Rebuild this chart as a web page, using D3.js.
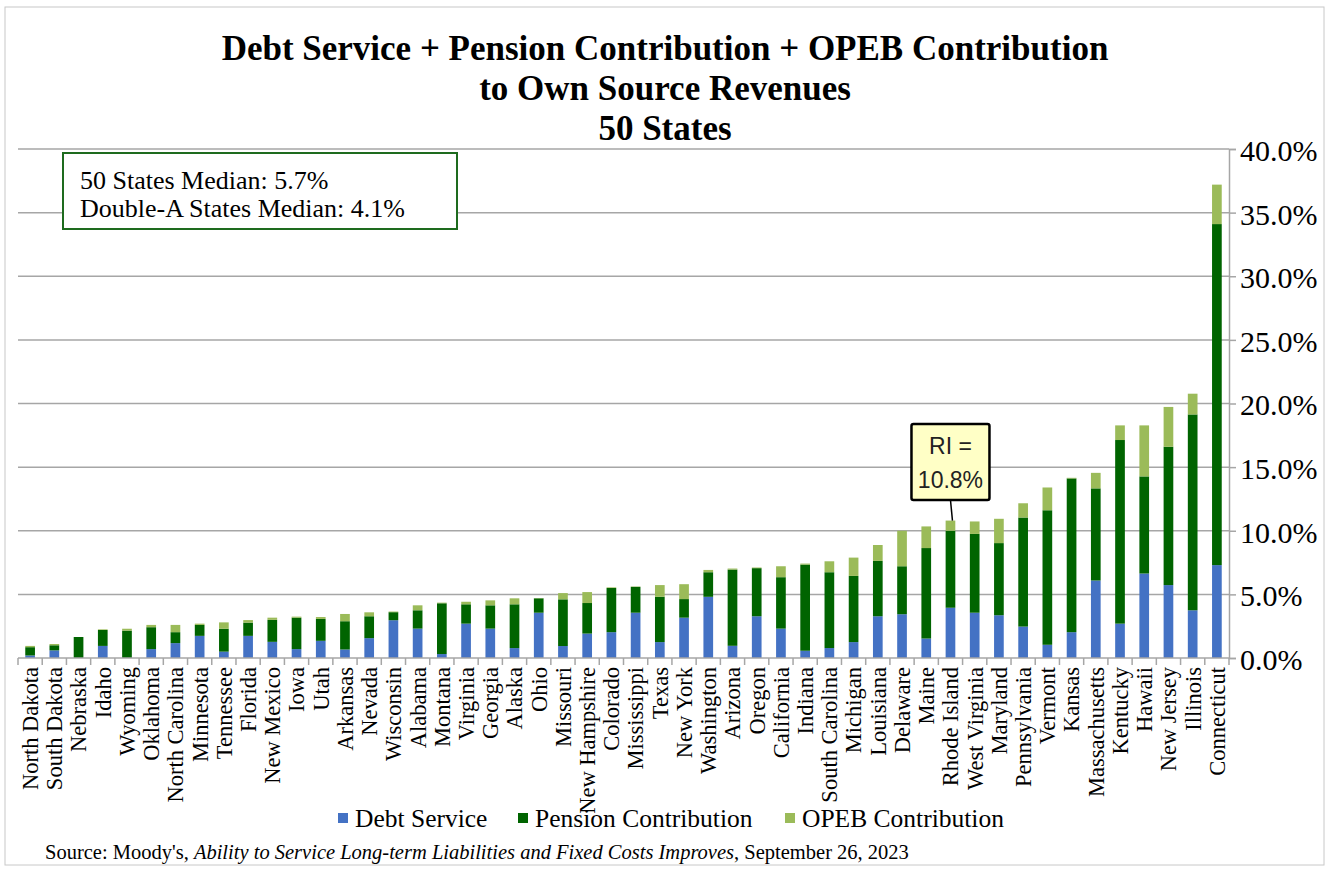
<!DOCTYPE html>
<html>
<head>
<meta charset="utf-8">
<script src="https://cdn.jsdelivr.net/npm/d3@7"></script>
<style>
  body { margin: 0; background: #fff; }
  svg { display: block; }
</style>
</head>
<body>
<svg id="chart" width="1329" height="869"></svg>
<script>
// data, sorted as in the picture
const states = ['North Dakota','South Dakota','Nebraska','Idaho','Wyoming','Oklahoma','North Carolina','Minnesota','Tennessee','Florida',
  'New Mexico','Iowa','Utah','Arkansas','Nevada','Wisconsin','Alabama','Montana','Virginia','Georgia',
  'Alaska','Ohio','Missouri','New Hampshire','Colorado','Mississippi','Texas','New York','Washington','Arizona',
  'Oregon','California','Indiana','South Carolina','Michigan','Louisiana','Delaware','Maine','Rhode Island','West Virginia',
  'Maryland','Pennsylvania','Vermont','Kansas','Massachusetts','Kentucky','Hawaii','New Jersey','Illinois','Connecticut'];
const debtService = [0.2,0.6,0,0.95,0,0.7,1.17,1.74,0.5,1.74,
  1.27,0.7,1.35,0.67,1.56,2.97,2.31,0.31,2.7,2.31,
  0.78,3.56,0.94,1.92,2.03,3.56,1.25,3.17,4.81,0.96,
  3.28,2.31,0.57,0.78,1.25,3.28,3.44,1.53,3.95,3.56,
  3.36,2.47,1.04,2.03,6.09,2.7,6.64,5.73,3.75,7.3];
const pension = [0.65,0.4,1.65,1.25,2.15,1.72,0.86,0.86,1.8,1.04,
  1.73,2.47,1.72,2.22,1.72,0.63,1.44,3.99,1.52,1.83,
  3.44,1.13,3.67,2.4,3.47,2.03,3.56,1.46,1.93,5.99,
  3.78,4.04,6.77,5.96,5.2,4.35,3.77,7.11,6.05,6.19,
  5.67,8.57,10.57,12.08,7.24,14.43,7.63,10.87,15.39,26.8];
const opeb = [0.1,0.1,0,0.05,0.15,0.18,0.57,0.1,0.5,0.2,
  0.17,0.08,0.15,0.57,0.31,0.05,0.39,0.05,0.2,0.39,
  0.47,0.02,0.49,0.86,0.05,0.03,0.92,1.17,0.18,0.08,
  0.05,0.86,0.08,0.86,1.44,1.25,2.79,1.7,0.8,0.98,
  1.91,1.12,1.79,0.05,1.22,1.15,4.01,3.13,1.63,3.1];
const seriesNames = ['Debt Service','Pension Contribution','OPEB Contribution'];
const seriesColors = ['#4472C4','#006400','#9BBB59'];
const yTicks = [0,5,10,15,20,25,30,35,40];
const medianLines = ['50 States Median: 5.7%','Double-A States Median: 4.1%'];
const calloutState = 'Rhode Island';
const calloutLines = ['RI =','10.8%'];

const serif = '"Liberation Serif","DejaVu Serif",serif';
const svg = d3.select('#chart');
const plotL = 18, plotR = 1229, plotT = 149, plotB = 658;

const rows = states.map((s,i) => ({state: s, 'Debt Service': debtService[i], 'Pension Contribution': pension[i], 'OPEB Contribution': opeb[i]}));
const stacked = d3.stack().keys(seriesNames)(rows);

const x = d3.scaleBand().domain(states).range([plotL, plotR]).paddingInner(0.6).paddingOuter(0.3);
const y = d3.scaleLinear().domain([0,40]).range([plotB, plotT]);

// outer frame
svg.append('rect').attr('x',5).attr('y',7).attr('width',1319).attr('height',858)
  .attr('fill','none').attr('stroke','#c8c8c8').attr('stroke-width',1);

// gridlines
svg.append('g').selectAll('line').data(yTicks.filter(d => d > 0)).join('line')
  .attr('x1', plotL).attr('x2', plotR).attr('y1', d => y(d)).attr('y2', d => y(d))
  .attr('stroke','#a6a6a6').attr('stroke-width',1.5);

// right axis
const yAxis = svg.append('g').attr('transform', `translate(${plotR},0)`)
  .call(d3.axisRight(y).tickValues(yTicks).tickSize(7).tickPadding(4).tickFormat(d => d3.format('.1f')(d) + '%'));
yAxis.select('.domain').attr('stroke','#a6a6a6').attr('stroke-width',1.5);
yAxis.selectAll('.tick line').attr('stroke','#a6a6a6').attr('stroke-width',1.5);
yAxis.selectAll('.tick text').attr('font-family', serif).attr('font-size', 30).attr('fill','#000').attr('dy','0.38em');

// bars
svg.append('g').selectAll('g').data(stacked).join('g')
  .attr('fill', (d,i) => seriesColors[i])
  .selectAll('rect').data(d => d).join('rect')
  .attr('x', d => x(d.data.state))
  .attr('width', x.bandwidth())
  .attr('y', d => y(d[1]))
  .attr('height', d => y(d[0]) - y(d[1]));

// x axis line and ticks between categories
svg.append('line').attr('x1', plotL).attr('x2', plotR).attr('y1', plotB).attr('y2', plotB)
  .attr('stroke','#a6a6a6').attr('stroke-width',1.5);
svg.append('g').selectAll('line').data(d3.range(states.length + 1)).join('line')
  .attr('x1', i => plotL + i * x.step()).attr('x2', i => plotL + i * x.step())
  .attr('y1', plotB).attr('y2', plotB + 7)
  .attr('stroke','#a6a6a6').attr('stroke-width',1.5);

// category labels, rotated
svg.append('g').selectAll('text').data(states).join('text')
  .attr('transform', d => `translate(${x(d) + x.bandwidth()/2},${plotB + 9}) rotate(-90)`)
  .attr('text-anchor','end').attr('dy','0.35em')
  .attr('font-family', serif).attr('font-size', 22.5).text(d => d);

// title
const titleLines = ['Debt Service + Pension Contribution + OPEB Contribution','to Own Source Revenues','50 States'];
svg.append('g').selectAll('text').data(titleLines).join('text')
  .attr('x', 665).attr('y', (d,i) => 60 + i * 40)
  .attr('text-anchor','middle').attr('font-family', serif).attr('font-weight','bold')
  .attr('font-size', 35).text(d => d);

// medians box
svg.append('rect').attr('x',63).attr('y',153).attr('width',394).attr('height',76)
  .attr('fill','#fff').attr('stroke','#1e6b1e').attr('stroke-width',2);
svg.append('g').selectAll('text').data(medianLines).join('text')
  .attr('x', 80).attr('y', (d,i) => 189 + i * 28)
  .attr('font-family', serif).attr('font-size', 26).text(d => d);

// RI callout
const ci = states.indexOf(calloutState);
const cx = x(calloutState) + x.bandwidth()/2;
const ctop = y(debtService[ci] + pension[ci] + opeb[ci]);
svg.append('line').attr('x1', cx).attr('y1', 500).attr('x2', cx + 2).attr('y2', ctop)
  .attr('stroke','#000').attr('stroke-width',1.5);
svg.append('rect').attr('x', cx - 39).attr('y', 424).attr('width', 78).attr('height', 76).attr('rx',2)
  .attr('fill','#ffffc6').attr('stroke','#000').attr('stroke-width',2.5);
svg.append('g').selectAll('text').data(calloutLines).join('text')
  .attr('x', cx).attr('y', (d,i) => 454 + i * 34).attr('text-anchor','middle')
  .attr('font-family','"Liberation Sans",Arial,sans-serif').attr('font-size', 23).attr('fill','#222').text(d => d);

// legend
const legendX = [338, 518, 785];
const lg = svg.append('g').selectAll('g').data(seriesNames).join('g')
  .attr('transform', (d,i) => `translate(${legendX[i]},818)`);
lg.append('rect').attr('x',0).attr('y',-5).attr('width',10).attr('height',10).attr('fill', (d,i) => seriesColors[i]);
lg.append('text').attr('x',17).attr('dy','0.35em').attr('font-family', serif).attr('font-size', 25.5).text(d => d);

// source line
const src = svg.append('text').attr('x', 45).attr('y', 859).attr('font-family', serif).attr('font-size', 20.5);
src.append('tspan').text("Source: Moody's, ");
src.append('tspan').attr('font-style','italic').text('Ability to Service Long-term Liabilities and Fixed Costs Improves');
src.append('tspan').text(', September 26, 2023');
</script>
</body>
</html>
